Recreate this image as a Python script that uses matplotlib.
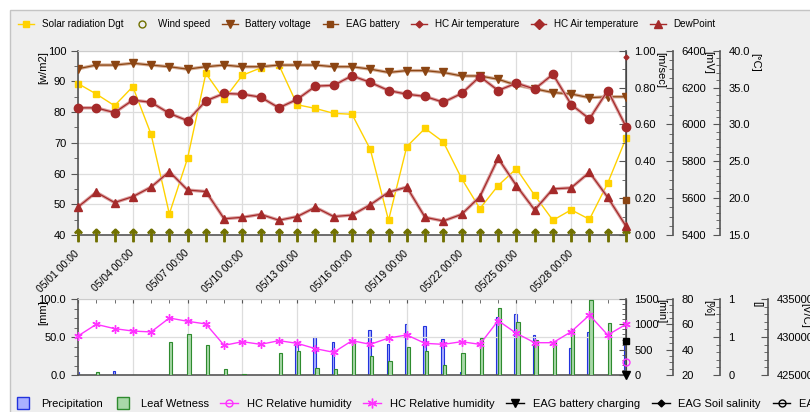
import matplotlib
matplotlib.use('Agg')
import numpy as np
import matplotlib.pyplot as plt
from matplotlib.lines import Line2D
from matplotlib.patches import Rectangle
from matplotlib.ticker import MultipleLocator, FixedLocator, FormatStrFormatter

plt.rcParams['font.family'] = ['Liberation Sans', 'DejaVu Sans']
plt.rcParams['font.size'] = 7.5

W, H = 810, 412

# x axis: days of May
days = list(range(1, 32))
date_labels = [f"05/{d:02d} 00:00" for d in days]

# top panel series
solar_rad = [89.3, 85.9, 82.1, 88.3, 72.8, 46.9, 65.0, 92.6, 84.2, 92.0, 94.4, 95.3, 82.4, 81.2, 79.6,
             79.3, 67.9, 44.8, 68.8, 74.7, 70.3, 58.4, 48.6, 56.1, 61.6, 52.9, 44.8, 48.2, 45.1, 56.9, 71.5]
wind_speed = [0.0] * 31
battery_mv = [6302, 6322, 6322, 6332, 6322, 6313, 6300, 6313, 6322, 6313, 6313, 6322, 6322, 6322, 6313,
              6313, 6300, 6282, 6292, 6292, 6282, 6263, 6263, 6245, 6213, 6193, 6173, 6165, 6145, 6150, 6150]
eag_battery_mv = [5590]          # only last day
hc_air_temp_b = [39.1]           # only last day
hc_air_temp = [32.25, 32.25, 31.6, 33.3, 33.0, 31.5, 30.5, 33.2, 34.2, 34.1, 33.7, 32.25, 33.4, 35.2, 35.3,
               36.6, 35.7, 34.6, 34.1, 33.8, 33.0, 34.2, 36.5, 34.6, 35.6, 34.8, 36.8, 32.7, 30.75, 34.6, 29.7]
dew_point = [18.8, 20.8, 19.4, 20.2, 21.5, 23.6, 21.1, 20.9, 17.2, 17.4, 17.8, 17.0, 17.5, 18.75, 17.5,
             17.7, 19.1, 20.8, 21.5, 17.4, 16.9, 17.8, 20.2, 25.4, 21.7, 18.4, 21.25, 21.4, 23.5, 20.1, 16.2]

# bottom panel series
precip_mm = [3.5, 0, 5.3, 0, 0, 0, 0, 0, 0, 0, 0, 0, 41.7, 50.4, 43.0, 0, 59.2, 40.4, 67.1, 64.5,
             47.8, 4.4, 0, 76.8, 80.3, 52.6, 0, 35.0, 57.0, 0, 45.0]
leaf_wet_min = [0, 53, 0, 6, 6, 645, 810, 585, 112, 15, 6, 428, 474, 132, 112, 678, 375, 283, 546, 474,
                191, 434, 737, 1316, 1039, 690, 650, 900, 1480, 1020, 770]
rh_pct = [50.8, 60.0, 56.6, 54.7, 54.0, 65.0, 62.4, 60.3, 43.4, 46.3, 44.2, 47.1, 45.0, 40.8, 37.9, 47.1,
          44.2, 49.2, 51.6, 45.0, 44.2, 46.3, 44.2, 62.9, 52.9, 45.5, 45.5, 54.2, 67.3, 51.6, 60.0]
rh_single = [30.5]
eag_charging = [0]
eag_salinity = [429520]

yellow = '#ffd200'
brown = '#8b4513'
brown_lt = '#d6ae96'
red = '#a52a2a'
red_lt = '#dba0a0'
olive = '#707000'
magenta = '#ff33ff'
blue_fill, blue_edge = '#aab0ff', '#2233dd'
green_fill, green_edge = '#a8d8a8', '#2e8b2e'
axis_col = '#555555'

x = np.array(days)
last = [days[-1]]

fig = plt.figure(figsize=(W / 100, H / 100), dpi=100, facecolor='white')
fig.patches.append(Rectangle((10 / W, -0.1), 1, 1 - 10 / H + 0.1, transform=fig.transFigure,
                             facecolor='#eeeeee', edgecolor='#c4c4c4', lw=1, zorder=-10))


def style_right(a, pos, lo, hi, major, minor, fmt):
    a.set_ylim(lo, hi)
    a.spines['right'].set_position(('axes', pos))
    for s in ['left', 'top', 'bottom']:
        a.spines[s].set_visible(False)
    a.spines['right'].set_color(axis_col)
    a.spines['right'].set_linewidth(1.2)
    a.yaxis.set_major_locator(MultipleLocator(major))
    a.yaxis.set_minor_locator(MultipleLocator(minor))
    a.yaxis.set_major_formatter(FormatStrFormatter(fmt))
    a.tick_params(axis='y', which='major', direction='in', length=5, color=axis_col, labelsize=8, pad=6)
    a.tick_params(axis='y', which='minor', direction='in', length=3, color=axis_col)


# ---- top panel ----
ax = fig.add_axes([78 / W, 1 - 235 / H, 548 / W, 184.3 / H])
ax.set_xlim(1, 31)
ax.set_ylim(40, 100)
ax.yaxis.set_major_locator(MultipleLocator(10))
ax.yaxis.set_minor_locator(MultipleLocator(5))
ax.xaxis.set_major_locator(FixedLocator(days[::3]))
ax.set_xticklabels(date_labels[::3][:10] + [''], rotation=45, ha='right', va='center',
                   rotation_mode='anchor', fontsize=7.5)
ax.xaxis.set_minor_locator(MultipleLocator(1))
ax.grid(True, which='major', color='#dddddd', lw=0.9)
ax.tick_params(axis='y', which='major', direction='out', length=5, color=axis_col, labelsize=8)
ax.tick_params(axis='y', which='minor', direction='out', length=3, color=axis_col)
ax.tick_params(axis='x', which='major', direction='out', length=4, color=axis_col, pad=8)
ax.tick_params(axis='x', which='minor', direction='out', length=3, color=axis_col)
for s in ['left', 'bottom']:
    ax.spines[s].set_color(axis_col)
    ax.spines[s].set_linewidth(1.2)
ax.spines['top'].set_color('#cccccc')
ax.plot(x, solar_rad, color=yellow, lw=1, marker='s', ms=5, clip_on=False)

ax_ms = ax.twinx()
style_right(ax_ms, 1.0, 0, 1, 0.2, 0.1, '%.2f')
ax_mv = ax.twinx()
style_right(ax_mv, 1 + 47 / 548, 5400, 6400, 200, 50, '%d')
ax_c = ax.twinx()
style_right(ax_c, 1 + 94 / 548, 15, 40, 5, 1, '%.1f')

ax_mv.plot(x, battery_mv, color=brown_lt, lw=2.4, zorder=1)
ax_mv.plot(x, battery_mv, color=brown, lw=0.9, marker='v', ms=5.5, zorder=2)
ax_mv.plot(last, eag_battery_mv, color=brown, marker='s', ms=5, ls='none', clip_on=False)
ax_c.plot(x, hc_air_temp, color=red_lt, lw=2.4, zorder=1)
ax_c.plot(x, hc_air_temp, color=red, lw=0.9, marker='o', ms=6, zorder=2, clip_on=False)
ax_c.plot(x, dew_point, color=red_lt, lw=2.4, zorder=1)
ax_c.plot(x, dew_point, color=red, lw=0.9, marker='^', ms=6, zorder=2, clip_on=False)
ax_c.plot(last, hc_air_temp_b, color=red, marker='D', ms=2.5, ls='none', clip_on=False)
ax_ms.plot(x, wind_speed, ls='none', marker=r'$\uparrow$', ms=9, color=olive, clip_on=False, zorder=5)

fig.text(43 / W, 1 - 68 / H, '[w/m2]', rotation=90, ha='center', va='center', fontsize=8)
fig.text(660 / W, 1 - 70 / H, '[m/sec]', rotation=270, ha='center', va='center', fontsize=8)
fig.text(708 / W, 1 - 62 / H, '[mV]', rotation=270, ha='center', va='center', fontsize=8)
fig.text(755 / W, 1 - 62 / H, '[°C]', rotation=270, ha='center', va='center', fontsize=8)

top_handles = [
    Line2D([], [], color=yellow, marker='s', ms=5, lw=1),
    Line2D([], [], color=olive, marker='o', mfc='none', ms=5, lw=0),
    Line2D([], [], color=brown, marker='v', ms=6, lw=1),
    Line2D([], [], color=brown, marker='s', ms=5, lw=1),
    Line2D([], [], color=red, marker='D', ms=3.5, lw=1),
    Line2D([], [], color=red, marker='D', ms=5, lw=1),
    Line2D([], [], color=red, marker='^', ms=6, lw=1),
]
top_labels = ['Solar radiation Dgt', 'Wind speed', 'Battery voltage', 'EAG battery',
              'HC Air temperature', 'HC Air temperature', 'DewPoint']
fig.legend(top_handles, top_labels, loc='center left', bbox_to_anchor=(18 / W, 1 - 24 / H), ncol=7,
           frameon=False, fontsize=7.1, handlelength=1.6, handletextpad=0.8, columnspacing=1.15,
           borderaxespad=0, borderpad=0)

# ---- bottom panel ----
axb = fig.add_axes([78 / W, 1 - 375 / H, 548 / W, 76 / H])
axb.set_xlim(1, 31)
axb.set_ylim(0, 100)
axb.set_yticks([0, 50, 100])
axb.yaxis.set_major_formatter(FormatStrFormatter('%.1f'))
axb.yaxis.set_minor_locator(MultipleLocator(12.5))
axb.xaxis.set_major_locator(FixedLocator(days[::3]))
axb.xaxis.set_minor_locator(MultipleLocator(1))
axb.grid(True, which='major', color='#dddddd', lw=0.9)
axb.tick_params(axis='x', which='both', top=True, bottom=False, labelbottom=False,
                direction='in', length=3, color=axis_col)
axb.tick_params(axis='y', which='major', direction='out', length=5, color=axis_col, labelsize=8)
axb.tick_params(axis='y', which='minor', direction='out', length=3, color=axis_col)
for s in ['left', 'bottom']:
    axb.spines[s].set_color(axis_col)
    axb.spines[s].set_linewidth(1.2)
axb.spines['top'].set_color('#cccccc')
axb.bar(x - 0.04, precip_mm, width=0.14, color=blue_fill, edgecolor=blue_edge, lw=0.8)

axb_min = axb.twinx()
style_right(axb_min, 1.0, 0, 1500, 500, 100, '%d')
axb_min.bar(x + 0.08, leaf_wet_min, width=0.18, color=green_fill, edgecolor=green_edge, lw=0.8)
axb_pct = axb.twinx()
style_right(axb_pct, 1 + 47 / 548, 20, 80, 20, 5, '%d')
axb_pct.plot(x, rh_pct, color=magenta, lw=1, marker=(6, 2, 0), ms=6, mew=1, clip_on=False)
axb_pct.plot(last, rh_single, color=magenta, marker='o', mfc='none', ms=5, ls='none', clip_on=False)
axb_bool = axb.twinx()
style_right(axb_bool, 1 + 94 / 548, 0, 1, 0.5, 0.1, '%.1f')
axb_bool.set_yticks([0, 0.5, 1])
axb_bool.set_yticklabels(['0', '1', '1'])
axb_bool.plot(last, eag_charging, color='black', marker='v', ms=6, ls='none', clip_on=False)
axb_vc = axb.twinx()
style_right(axb_vc, 1 + 142 / 548, 425000, 435000, 5000, 1000, '%d')
axb_vc.plot(last, eag_salinity, color='black', marker='s', ms=5, ls='none', clip_on=False)

fig.text(43 / W, 1 - 313 / H, '[mm]', rotation=90, ha='center', va='center', fontsize=8)
fig.text(661 / W, 1 - 311 / H, '[min]', rotation=270, ha='center', va='center', fontsize=8)
fig.text(708 / W, 1 - 308 / H, '[%]', rotation=270, ha='center', va='center', fontsize=8)
fig.text(757 / W, 1 - 304 / H, '[]', rotation=270, ha='center', va='center', fontsize=8)
fig.text(805 / W, 1 - 315 / H, '[V/C]', rotation=270, ha='center', va='center', fontsize=8)

bot_handles = [
    Line2D([], [], ls='none', marker='s', ms=8, mfc=blue_fill, mec=blue_edge),
    Line2D([], [], ls='none', marker='s', ms=8, mfc=green_fill, mec=green_edge),
    Line2D([], [], color=magenta, marker='o', mfc='none', ms=5, lw=1),
    Line2D([], [], color=magenta, marker=(6, 2, 0), ms=7, lw=1),
    Line2D([], [], color='black', marker='v', ms=6, lw=1),
    Line2D([], [], color='black', marker='D', ms=3.5, lw=1),
    Line2D([], [], color='black', marker='o', mfc='none', ms=5, lw=1),
]
bot_labels = ['Precipitation', 'Leaf Wetness', 'HC Relative humidity', 'HC Relative humidity',
              'EAG battery charging', 'EAG Soil salinity', 'EAG Soil moisture']
fig.legend(bot_handles, bot_labels, loc='center left', bbox_to_anchor=(14 / W, 1 - 404 / H), ncol=7,
           frameon=False, fontsize=8, handlelength=1.6, handletextpad=0.8, columnspacing=1.05,
           borderaxespad=0, borderpad=0)

fig.savefig('out.png', dpi=100, facecolor='white')
